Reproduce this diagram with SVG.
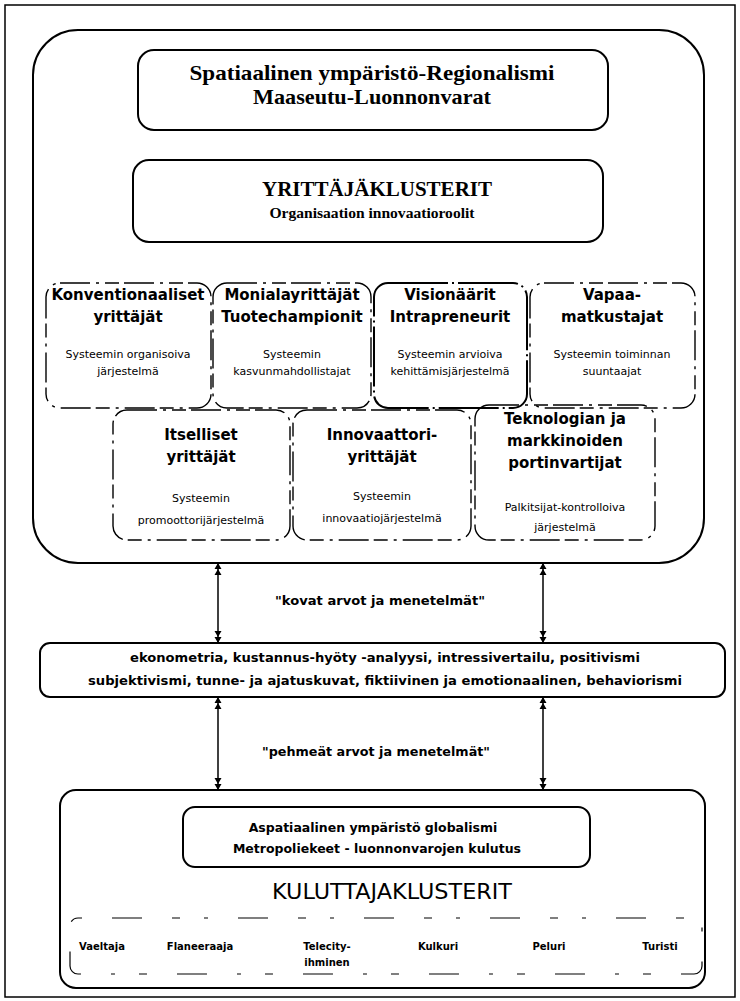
<svg xmlns="http://www.w3.org/2000/svg" width="740" height="1001" viewBox="0 0 740 1001">
<defs>
<marker id="dbl" viewBox="0 0 14 10" refX="14" refY="5" markerWidth="14" markerHeight="10" markerUnits="userSpaceOnUse" orient="auto-start-reverse">
<path d="M14,5 L8,1.5 L8,8.5 Z M8,5 L2,1.5 L2,8.5 Z" fill="#000"/>
</marker>
</defs>
<style>
.frame{fill:#fff;stroke:#000;stroke-width:1.5}
.box{fill:none;stroke:#000;stroke-width:2}
.dash{fill:none;stroke:#000;stroke-width:1.4;stroke-dasharray:30 6 3 6 14 5}
.serif{font-family:"Liberation Serif","Times New Roman",serif;font-weight:bold;text-anchor:middle;fill:#000}
.t{font-family:"DejaVu Sans","Liberation Sans",sans-serif;font-weight:bold;font-size:15px;text-anchor:middle;fill:#000}
.s{font-family:"DejaVu Sans","Liberation Sans",sans-serif;font-size:11px;text-anchor:middle;fill:#000}
.m{font-family:"DejaVu Sans","Liberation Sans",sans-serif;font-weight:bold;font-size:12.5px;text-anchor:middle;fill:#000}
.l{font-family:"DejaVu Sans","Liberation Sans",sans-serif;font-weight:bold;font-size:10px;text-anchor:middle;fill:#000}
.arr{stroke:#000;stroke-width:1.5;fill:none}
</style>
<rect x="0" y="0" width="740" height="1001" fill="#fff"/>
<rect class="frame" x="5" y="5" width="730" height="992"/>

<g id="yrittajaklusterit">
<rect class="box" x="33" y="30" width="671" height="533" rx="45"/>
</g>
<g id="spatiaalinen">
<rect class="box" x="138" y="50" width="470" height="80" rx="16"/>
<text class="serif" x="372" y="80" font-size="21" textLength="365" lengthAdjust="spacingAndGlyphs">Spatiaalinen ympäristö-Regionalismi</text>
<text class="serif" x="372" y="104" font-size="21" textLength="238" lengthAdjust="spacingAndGlyphs">Maaseutu-Luonnonvarat</text>
</g>
<g id="otsikko">
<rect class="box" x="133" y="160" width="470" height="82" rx="16"/>
<text class="serif" x="377" y="196" font-size="22" textLength="230" lengthAdjust="spacingAndGlyphs">YRITTÄJÄKLUSTERIT</text>
<text class="serif" x="372" y="218" font-size="14" textLength="205" lengthAdjust="spacingAndGlyphs">Organisaation innovaatioroolit</text>
</g>

<g id="konventionaaliset">
<rect class="dash" x="46" y="283" width="165" height="125" rx="14"/>
<text class="t" x="128" y="300">Konventionaaliset</text>
<text class="t" x="128" y="322">yrittäjät</text>
<text class="s" x="128" y="358">Systeemin organisoiva</text>
<text class="s" x="128" y="375">järjestelmä</text>
</g>
<g id="monialayrittajat">
<rect class="dash" x="213" y="283" width="158" height="125" rx="14"/>
<text class="t" x="292" y="300">Monialayrittäjät</text>
<text class="t" x="292" y="322">Tuotechampionit</text>
<text class="s" x="292" y="358">Systeemin</text>
<text class="s" x="292" y="375">kasvunmahdollistajat</text>
</g>
<g id="visionaarit">
<rect class="box" x="374" y="283" width="153" height="125" rx="14" stroke-width="1.6" stroke-dasharray="60 4 2 4"/>
<text class="t" x="450" y="300">Visionäärit</text>
<text class="t" x="450" y="322">Intrapreneurit</text>
<text class="s" x="450" y="358">Systeemin arvioiva</text>
<text class="s" x="450" y="375">kehittämisjärjestelmä</text>
</g>
<g id="vapaamatkustajat">
<rect class="dash" x="530" y="283" width="165" height="125" rx="14"/>
<text class="t" x="612" y="300">Vapaa-</text>
<text class="t" x="612" y="322">matkustajat</text>
<text class="s" x="612" y="358">Systeemin toiminnan</text>
<text class="s" x="612" y="375">suuntaajat</text>
</g>
<g id="itselliset">
<rect class="dash" x="113" y="410" width="177" height="130" rx="14"/>
<text class="t" x="201" y="440">Itselliset</text>
<text class="t" x="201" y="462">yrittäjät</text>
<text class="s" x="201" y="502">Systeemin</text>
<text class="s" x="201" y="524">promoottorijärjestelmä</text>
</g>
<g id="innovaattori">
<rect class="dash" x="293" y="410" width="178" height="130" rx="14"/>
<text class="t" x="382" y="440">Innovaattori-</text>
<text class="t" x="382" y="462">yrittäjät</text>
<text class="s" x="382" y="500">Systeemin</text>
<text class="s" x="382" y="522">innovaatiojärjestelmä</text>
</g>
<g id="portinvartijat">
<rect class="dash" x="475" y="405" width="180" height="135" rx="14"/>
<text class="t" x="565" y="424">Teknologian ja</text>
<text class="t" x="565" y="446">markkinoiden</text>
<text class="t" x="565" y="468">portinvartijat</text>
<text class="s" x="565" y="511">Palkitsijat-kontrolloiva</text>
<text class="s" x="565" y="531">järjestelmä</text>
</g>

<g id="menetelmat">
<rect class="box" x="40" y="643" width="685" height="54" rx="10"/>
<text class="m" x="385" y="662" textLength="510" lengthAdjust="spacingAndGlyphs">ekonometria, kustannus-hyöty -analyysi, intressivertailu, positivismi</text>
<text class="m" x="385" y="685" textLength="594" lengthAdjust="spacingAndGlyphs">subjektivismi, tunne- ja ajatuskuvat, fiktiivinen ja emotionaalinen, behaviorismi</text>
</g>

<g id="kuluttajaklusterit">
<rect class="box" x="60" y="790" width="645" height="198" rx="16"/>
<rect class="box" x="183" y="807" width="407" height="60" rx="12"/>
<text class="m" x="373" y="832">Aspatiaalinen ympäristö globalismi</text>
<text class="m" x="377" y="853">Metropoliekeet - luonnonvarojen kulutus</text>
<text x="392" y="899" font-family="DejaVu Sans, Liberation Sans, sans-serif" font-size="21" text-anchor="middle" fill="#000" textLength="240" lengthAdjust="spacingAndGlyphs">KULUTTAJAKLUSTERIT</text>
<rect x="70" y="918" width="632" height="56" rx="8" fill="none" stroke="#000" stroke-width="1.2" stroke-dasharray="4 30 30 30 8 24"/>
<text class="l" x="102" y="950">Vaeltaja</text>
<text class="l" x="200" y="950">Flaneeraaja</text>
<text class="l" x="327" y="950">Telecity-</text>
<text class="l" x="327" y="966">ihminen</text>
<text class="l" x="438" y="950">Kulkuri</text>
<text class="l" x="549" y="950">Peluri</text>
<text class="l" x="660" y="950">Turisti</text>
</g>

<g id="connectors">
<line class="arr" x1="218" y1="563" x2="218" y2="643" marker-start="url(#dbl)" marker-end="url(#dbl)"/>
<line class="arr" x1="543" y1="563" x2="543" y2="643" marker-start="url(#dbl)" marker-end="url(#dbl)"/>
<line class="arr" x1="218" y1="697" x2="218" y2="790" marker-start="url(#dbl)" marker-end="url(#dbl)"/>
<line class="arr" x1="543" y1="697" x2="543" y2="790" marker-start="url(#dbl)" marker-end="url(#dbl)"/>
<text class="m" x="380" y="605" textLength="210" lengthAdjust="spacingAndGlyphs">"kovat arvot ja menetelmät"</text>
<text class="m" x="376" y="756" textLength="228" lengthAdjust="spacingAndGlyphs">"pehmeät arvot ja menetelmät"</text>
</g>
</svg>
